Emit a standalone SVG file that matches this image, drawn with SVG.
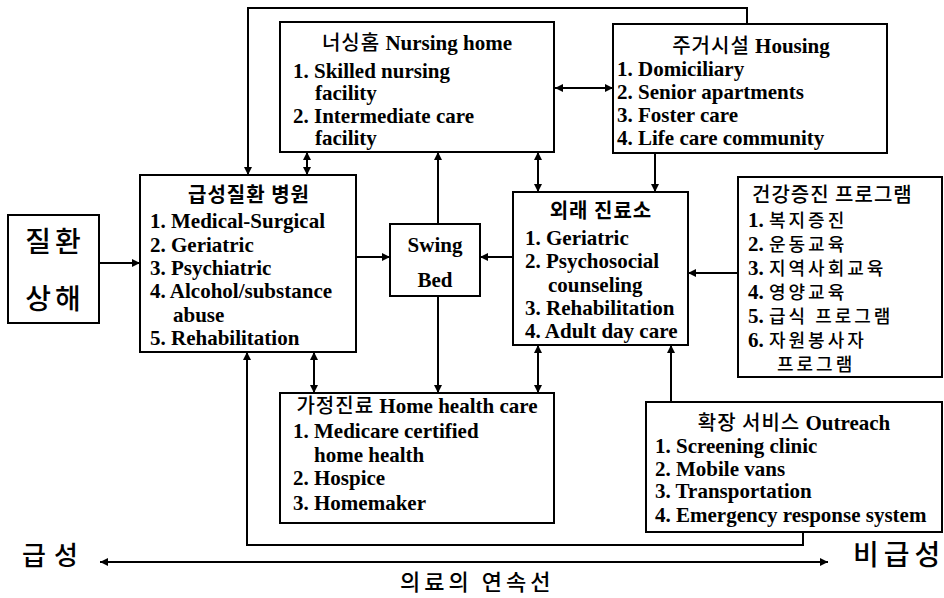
<svg xmlns="http://www.w3.org/2000/svg" width="944" height="598" viewBox="0 0 944 598">
<style>
.box{fill:#fff;stroke:#000;stroke-width:2}
.ln{fill:none;stroke:#000;stroke-width:2}
text{fill:#000}
.t{font-family:"Liberation Serif","Noto Sans CJK KR",serif;font-weight:bold;font-size:21px}
.k{font-family:"Noto Sans CJK KR",sans-serif;font-weight:500;font-size:20px;letter-spacing:1px}
.ki{font-family:"Noto Sans CJK KR",sans-serif;font-weight:500;font-size:18px;letter-spacing:3px}
.kb{font-family:"Noto Sans CJK KR",sans-serif;font-weight:bold;font-size:20px;letter-spacing:1px}
.big{font-family:"Noto Sans CJK KR",sans-serif;font-weight:500}
.mid{text-anchor:middle}
</style>
<defs>
<marker id="ah" viewBox="0 0 10 10" refX="10" refY="5" markerWidth="9" markerHeight="8" markerUnits="userSpaceOnUse" orient="auto-start-reverse">
<path d="M0,0 L10,5 L0,10 z" fill="#000"/>
</marker>
</defs>

<g id="connectors">
<path class="ln" d="M99,263 H140" marker-end="url(#ah)"/>
<path class="ln" d="M356,257 H390" marker-end="url(#ah)"/>
<path class="ln" d="M513,257 H480" marker-end="url(#ah)"/>
<path class="ln" d="M738,273 H688" marker-end="url(#ah)"/>
<path class="ln" d="M655,153 V192" marker-end="url(#ah)"/>
<path class="ln" d="M538,152 V192" marker-start="url(#ah)" marker-end="url(#ah)"/>
<path class="ln" d="M555,88 H613" marker-start="url(#ah)" marker-end="url(#ah)"/>
<path class="ln" d="M307,152 V175" marker-start="url(#ah)" marker-end="url(#ah)"/>
<path class="ln" d="M438,224 V152" marker-end="url(#ah)"/>
<path class="ln" d="M438,296 V393" marker-end="url(#ah)"/>
<path class="ln" d="M314,352 V393" marker-start="url(#ah)" marker-end="url(#ah)"/>
<path class="ln" d="M538,345 V393" marker-start="url(#ah)" marker-end="url(#ah)"/>
<path class="ln" d="M671,402 V345" marker-end="url(#ah)"/>
<path class="ln" d="M747,24 V8 H248 V175" marker-end="url(#ah)"/>
<path class="ln" d="M803,532 V545 H247 V352" marker-end="url(#ah)"/>
<path class="ln" d="M100,562 H828" marker-start="url(#ah)" marker-end="url(#ah)"/>
</g>

<g id="illness">
<rect class="box" x="8" y="215" width="91" height="108"/>
<text class="big mid" x="55" y="252" font-size="28" letter-spacing="4">질환</text>
<text class="big mid" x="55" y="309" font-size="28" letter-spacing="4">상해</text>
</g>

<g id="hospital">
<rect class="box" x="140" y="175" width="216" height="177"/>
<text class="kb mid" x="249" y="202">급성질환 병원</text>
<text class="t" x="150" y="228">1. Medical-Surgical</text>
<text class="t" x="150" y="252">2. Geriatric</text>
<text class="t" x="150" y="275">3. Psychiatric</text>
<text class="t" x="150" y="298">4. Alcohol/substance</text>
<text class="t" x="173" y="322">abuse</text>
<text class="t" x="150" y="345">5. Rehabilitation</text>
</g>

<g id="nursing">
<rect class="box" x="280" y="22" width="274" height="130"/>
<text class="t mid" x="417" y="50"><tspan class="k">너싱홈</tspan> Nursing home</text>
<text class="t" x="293" y="78">1. Skilled nursing</text>
<text class="t" x="315" y="100">facility</text>
<text class="t" x="293" y="123">2. Intermediate care</text>
<text class="t" x="315" y="145">facility</text>
</g>

<g id="housing">
<rect class="box" x="613" y="24" width="274" height="129"/>
<text class="t mid" x="751" y="53"><tspan class="k">주거시설</tspan> Housing</text>
<text class="t" x="617" y="76">1. Domiciliary</text>
<text class="t" x="617" y="99">2. Senior apartments</text>
<text class="t" x="617" y="122">3. Foster care</text>
<text class="t" x="617" y="145">4. Life care community</text>
</g>

<g id="swingbed">
<rect class="box" x="390" y="224" width="90" height="72"/>
<text class="t mid" x="435" y="252" font-size="23">Swing</text>
<text class="t mid" x="435" y="287" font-size="23">Bed</text>
</g>

<g id="outpatient">
<rect class="box" x="513" y="192" width="175" height="153"/>
<text class="kb mid" x="601" y="218">외래 진료소</text>
<text class="t" x="525" y="245">1. Geriatric</text>
<text class="t" x="525" y="268">2. Psychosocial</text>
<text class="t" x="548" y="292">counseling</text>
<text class="t" x="525" y="315">3. Rehabilitation</text>
<text class="t" x="525" y="338">4. Adult day care</text>
</g>

<g id="healthpromotion">
<rect class="box" x="738" y="177" width="204" height="200"/>
<text class="k" x="752" y="202">건강증진 프로그램</text>
<text class="t" x="748" y="227">1. <tspan class="ki">복지증진</tspan></text>
<text class="t" x="748" y="251">2. <tspan class="ki">운동교육</tspan></text>
<text class="t" x="748" y="275">3. <tspan class="ki">지역사회교육</tspan></text>
<text class="t" x="748" y="299">4. <tspan class="ki">영양교육</tspan></text>
<text class="t" x="748" y="323">5. <tspan class="ki">급식 프로그램</tspan></text>
<text class="t" x="748" y="347">6. <tspan class="ki">자원봉사자</tspan></text>
<text class="ki" x="777" y="371">프로그램</text>
</g>

<g id="homehealth">
<rect class="box" x="280" y="393" width="274" height="130"/>
<text class="t mid" x="417" y="413"><tspan class="k">가정진료</tspan> Home health care</text>
<text class="t" x="293" y="438">1. Medicare certified</text>
<text class="t" x="314" y="462">home health</text>
<text class="t" x="293" y="485">2. Hospice</text>
<text class="t" x="293" y="510">3. Homemaker</text>
</g>

<g id="outreach">
<rect class="box" x="646" y="402" width="296" height="130"/>
<text class="t mid" x="794" y="430"><tspan class="k">확장 서비스</tspan> Outreach</text>
<text class="t" x="655" y="453">1. Screening clinic</text>
<text class="t" x="655" y="476">2. Mobile vans</text>
<text class="t" x="655" y="498">3. Transportation</text>
<text class="t" x="655" y="522">4. Emergency response system</text>
</g>

<g id="axis-labels">
<text class="big" x="22" y="565" font-size="26" letter-spacing="8">급성</text>
<text class="big" x="853" y="565" font-size="28" letter-spacing="5">비급성</text>
<text class="big" x="400" y="590" font-size="22" letter-spacing="4">의료의 연속선</text>
</g>
</svg>
